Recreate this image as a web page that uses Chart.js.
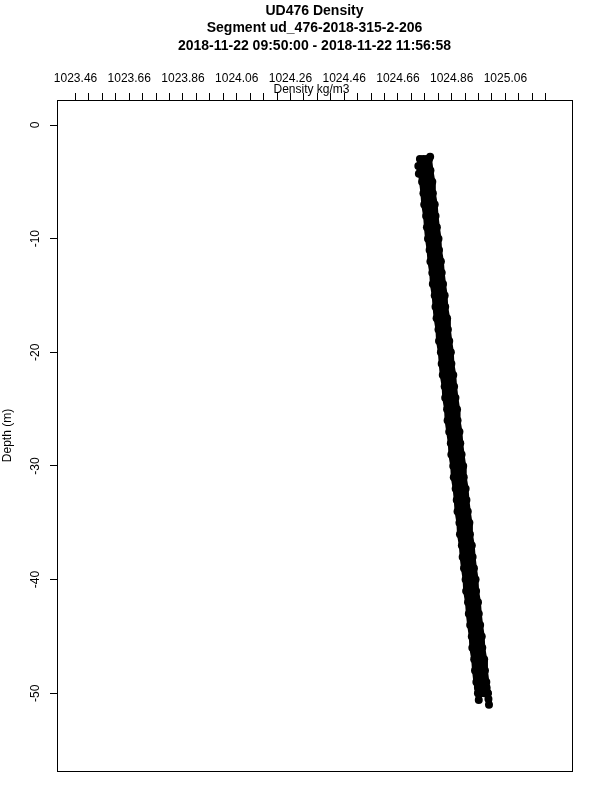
<!DOCTYPE html>
<html>
<head>
<meta charset="utf-8">
<title>UD476 Density</title>
<script src="https://cdn.jsdelivr.net/npm/chart.js@4.4.1/dist/chart.umd.min.js"></script>
<style>
  html, body { margin: 0; padding: 0; background: #fff; }
  canvas { display: block; }
</style>
</head>
<body>
<canvas id="densityChart" width="600" height="800"></canvas>
<script>
// Titles and axis labels
const titleLines = [
    'UD476 Density',
    'Segment ud_476-2018-315-2-206',
    '2018-11-22 09:50:00 - 2018-11-22 11:56:58'
];
const xTitle = 'Density kg/m3';
const yTitle = 'Depth (m)';

// Tick labels
const xTickLabels = [1023.46, 1023.66, 1023.86, 1024.06, 1024.26, 1024.46, 1024.66, 1024.86, 1025.06];
const xTickStart = 1023.46;
const xTickStep = 0.05;
const xTickCount = 36;
const depthTicks = [0, -10, -20, -30, -40, -50];

// Depth levels shared by the profiles (m)
const depthLevels = [-3, -4, -5, -6, -7, -8, -9, -10, -11, -12, -13, -14, -15, -16, -17, -18, -19, -20,
    -21, -22, -23, -24, -25, -26, -27, -28, -29, -30, -31, -32, -33, -34, -35, -36, -37, -38, -39, -40,
    -41, -42, -43, -44, -45, -46, -47, -48, -49, -50];

// Density (kg/m3)
const profileA = [1024.742, 1024.744, 1024.750, 1024.755, 1024.758, 1024.765, 1024.768, 1024.772, 1024.778, 1024.781,
    1024.788, 1024.790, 1024.797, 1024.800, 1024.804, 1024.811, 1024.813, 1024.820, 1024.823, 1024.827,
    1024.834, 1024.836, 1024.843, 1024.845, 1024.851, 1024.857, 1024.859, 1024.866, 1024.868, 1024.875,
    1024.879, 1024.882, 1024.889, 1024.891, 1024.898, 1024.901, 1024.906, 1024.912, 1024.914, 1024.921,
    1024.924, 1024.929, 1024.935, 1024.937, 1024.944, 1024.947, 1024.952, 1024.958];
const profileB = [1024.755, 1024.757, 1024.764, 1024.766, 1024.773, 1024.776, 1024.782, 1024.785, 1024.791, 1024.794,
    1024.801, 1024.803, 1024.810, 1024.812, 1024.819, 1024.822, 1024.828, 1024.831, 1024.837, 1024.840,
    1024.847, 1024.849, 1024.856, 1024.858, 1024.865, 1024.868, 1024.874, 1024.877, 1024.883, 1024.886,
    1024.893, 1024.895, 1024.902, 1024.904, 1024.911, 1024.914, 1024.920, 1024.923, 1024.929, 1024.932,
    1024.939, 1024.941, 1024.948, 1024.950, 1024.957, 1024.960, 1024.966, 1024.969];
const profileC = [1024.767, 1024.771, 1024.774, 1024.780, 1024.783, 1024.790, 1024.792, 1024.799, 1024.801, 1024.808,
    1024.811, 1024.816, 1024.822, 1024.824, 1024.831, 1024.834, 1024.839, 1024.845, 1024.847, 1024.854,
    1024.857, 1024.862, 1024.868, 1024.870, 1024.877, 1024.880, 1024.885, 1024.891, 1024.893, 1024.900,
    1024.903, 1024.908, 1024.914, 1024.916, 1024.923, 1024.926, 1024.931, 1024.937, 1024.939, 1024.946,
    1024.949, 1024.954, 1024.960, 1024.962, 1024.969, 1024.972, 1024.977, 1024.983];
const profileD = [1024.776, 1024.781, 1024.788, 1024.790, 1024.797, 1024.800, 1024.805, 1024.811, 1024.813, 1024.820,
    1024.823, 1024.828, 1024.834, 1024.836, 1024.843, 1024.846, 1024.851, 1024.857, 1024.859, 1024.866,
    1024.869, 1024.874, 1024.880, 1024.882, 1024.889, 1024.892, 1024.897, 1024.903, 1024.905, 1024.912,
    1024.915, 1024.920, 1024.926, 1024.928, 1024.935, 1024.938, 1024.943, 1024.949, 1024.951, 1024.958,
    1024.961, 1024.966, 1024.972, 1024.974, 1024.981, 1024.984, 1024.989, 1024.995];

// Short tails where two profiles reach below 50 m
const tailLeftDepths = [-49.5, -50.0, -50.6];
const tailLeftDensity = [1024.958, 1024.960, 1024.961];
const tailRightDepths = [-49.5, -50.0, -50.5, -51.0];
const tailRightDensity = [1024.990, 1024.994, 1024.997, 1024.999];

// Loose points at the top of the profiles
const topDepths = [-2.8, -3.3, -3.6, -4.3];
const topDensity = [1024.780, 1024.772, 1024.736, 1024.738];

const FONT = '"Liberation Sans", Arial, Helvetica, sans-serif';

function toPoints(densities, depths) {
    return densities.map((d, i) => ({ x: d, y: depths[i] }));
}

function lineDataset(values, depths) {
    return {
        data: toPoints(values, depths),
        showLine: true,
        borderColor: '#000',
        borderWidth: 6,
        backgroundColor: '#000',
        pointRadius: 4,
        pointBorderWidth: 0
    };
}

// Draws the R style frame, titles and rotated depth labels
const framePlugin = {
    id: 'frame',
    afterDraw(chart) {
        const ctx = chart.ctx;
        const area = chart.chartArea;
        const yScale = chart.scales.y;
        const midX = (area.left + area.right) / 2;
        ctx.save();
        ctx.strokeStyle = '#000';
        ctx.lineWidth = 1;
        ctx.strokeRect(Math.round(area.left) + 0.5, Math.round(area.top) + 0.5,
            Math.round(area.right - area.left), Math.round(area.bottom - area.top));

        ctx.fillStyle = '#000';
        ctx.textAlign = 'center';
        ctx.textBaseline = 'middle';
        ctx.font = 'bold 14px ' + FONT;
        titleLines.forEach((line, i) => {
            ctx.fillText(line, midX, 11 + i * 17.5);
        });

        ctx.font = '12px ' + FONT;
        ctx.fillText(xTitle, midX - 3, 90);

        depthTicks.forEach(v => {
            ctx.save();
            ctx.translate(36, yScale.getPixelForValue(v));
            ctx.rotate(-Math.PI / 2);
            ctx.fillText(String(v), 0, 0);
            ctx.restore();
        });

        ctx.save();
        ctx.translate(8, (area.top + area.bottom) / 2);
        ctx.rotate(-Math.PI / 2);
        ctx.fillText(yTitle, 0, 0);
        ctx.restore();
        ctx.restore();
    }
};

const ctx = document.getElementById('densityChart').getContext('2d');
new Chart(ctx, {
    type: 'scatter',
    data: {
        datasets: [
            lineDataset(profileA, depthLevels),
            lineDataset(profileB, depthLevels),
            lineDataset(profileC, depthLevels),
            lineDataset(profileD, depthLevels),
            lineDataset(tailLeftDensity, tailLeftDepths),
            lineDataset(tailRightDensity, tailRightDepths),
            {
                data: toPoints(topDensity, topDepths),
                backgroundColor: '#000',
                pointRadius: 4,
                pointBorderWidth: 0
            }
        ]
    },
    options: {
        responsive: false,
        animation: false,
        layout: { padding: { top: 0, left: 0, right: 28, bottom: 29 } },
        plugins: {
            legend: { display: false },
            tooltip: { enabled: false },
            title: { display: false }
        },
        scales: {
            x: {
                type: 'linear',
                position: 'top',
                min: 1023.391,
                max: 1025.308,
                afterBuildTicks: scale => {
                    const ticks = [];
                    for (let i = 0; i < xTickCount; i++) {
                        ticks.push({ value: +(xTickStart + i * xTickStep).toFixed(2) });
                    }
                    scale.ticks = ticks;
                },
                afterFit: scale => { scale.height = 100; },
                ticks: {
                    autoSkip: false,
                    maxRotation: 0,
                    padding: 7,
                    color: '#000',
                    font: { family: FONT, size: 12 },
                    callback: value => {
                        const hit = xTickLabels.find(t => Math.abs(t - value) < 1e-6);
                        return hit !== undefined ? hit.toFixed(2) : '';
                    }
                },
                grid: { drawOnChartArea: false, drawTicks: true, tickLength: 7, color: '#000' },
                border: { display: false }
            },
            y: {
                type: 'linear',
                min: -56.84,
                max: 2.2,
                afterBuildTicks: scale => {
                    scale.ticks = depthTicks.map(v => ({ value: v }));
                },
                afterFit: scale => { scale.width = 57; },
                ticks: { display: false },
                grid: { drawOnChartArea: false, drawTicks: true, tickLength: 7, color: '#000' },
                border: { display: false }
            }
        }
    },
    plugins: [framePlugin]
});
</script>
</body>
</html>
